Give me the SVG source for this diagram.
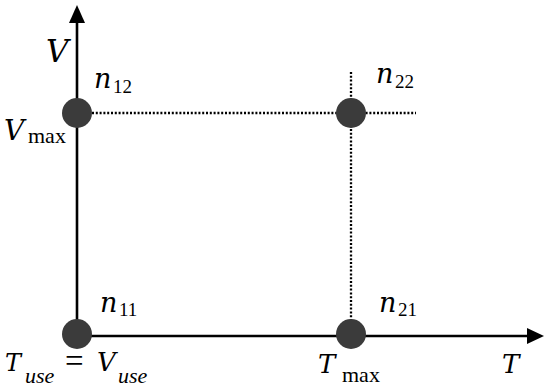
<svg xmlns="http://www.w3.org/2000/svg" width="550" height="392" viewBox="0 0 550 392">
<style>
.ax{stroke:#000;stroke-width:2.6;fill:none}
.dot{stroke:#000;stroke-width:2.3;stroke-dasharray:2 1.8;fill:none}
.nd{fill:#3b3b3b}
text{font-family:"Liberation Serif","DejaVu Serif",serif;fill:#000}
.it{font-family:"DejaVu Serif",serif;font-style:italic}
.n{font-family:"DejaVu Serif",serif;font-style:italic;font-size:27px}
.d{font-size:19px}
.sub{font-size:22px}
.isub{font-size:22px;font-style:italic}
</style>
<g id="connectors">
<line class="ax" x1="77" y1="336" x2="77" y2="22"/>
<path d="M69,23 L77,5 L85,23 z" fill="#000"/>
<line class="ax" x1="77" y1="336" x2="528" y2="336"/>
<path d="M527,328 L544,336 L527,344 z" fill="#000"/>
<line class="dot" x1="92" y1="113" x2="416" y2="113"/>
<line class="dot" x1="351" y1="72" x2="351" y2="334"/>
</g>
<g id="axis-labels">
<text class="it" x="46" y="62" font-size="31">V</text>
<text class="it" x="502" y="373" font-size="26">T</text>
<text class="it" x="4" y="140" font-size="28">V</text><text class="sub" x="28" y="143">max</text>
<text class="it" x="5" y="371" font-size="24">T</text><text class="isub" x="25" y="383">use</text>
<text x="65" y="372" font-size="33">=</text>
<text class="it" x="97" y="371" font-size="26">V</text><text class="isub" x="118" y="383">use</text>
<text class="it" x="318" y="373" font-size="26">T</text><text class="sub" x="342" y="382">max</text>
</g>
<g id="n12"><circle class="nd" cx="77" cy="113" r="15"/><text class="n" x="94" y="88">n</text><text class="d" x="113" y="93">12</text></g>
<g id="n22"><circle class="nd" cx="351" cy="113" r="15"/><text class="n" x="376" y="83">n</text><text class="d" x="395" y="88">22</text></g>
<g id="n11"><circle class="nd" cx="77" cy="334" r="15"/><text class="n" x="100" y="312">n</text><text class="d" x="119" y="316">11</text></g>
<g id="n21"><circle class="nd" cx="351" cy="334" r="15"/><text class="n" x="379" y="312">n</text><text class="d" x="398" y="316">21</text></g>
</svg>
